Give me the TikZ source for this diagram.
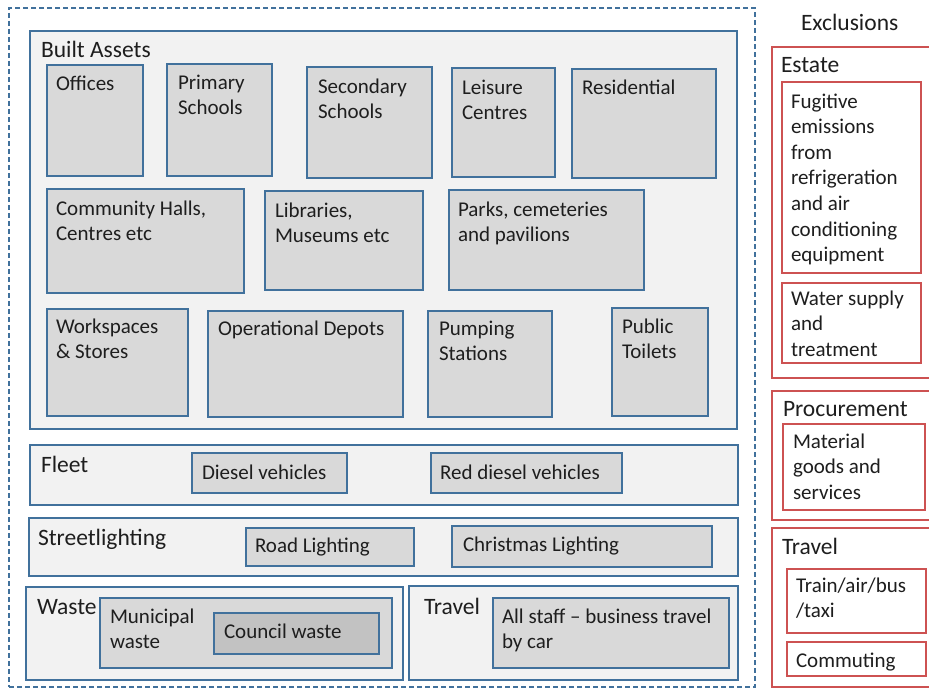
\documentclass[tikz,border=0pt]{standalone}
\usepackage{fontspec}
\setmainfont{Carlito}
\definecolor{bblue}{HTML}{41719C}
\definecolor{rred}{RGB}{205,82,82}
\definecolor{grpfill}{HTML}{F2F2F2}
\definecolor{boxfill}{HTML}{D9D9D9}
\definecolor{darkfill}{HTML}{C2C2C2}
\definecolor{txtc}{HTML}{1E1E1E}
\newcommand\bodyfont{\fontsize{21}{25.6}\selectfont}
\newcommand\headfont{\fontsize{23.5}{28}\selectfont}
\tikzset{
  boxbase/.style={rectangle, inner sep=0pt, outer sep=0pt, line width=2.8pt, anchor=north west},
  grp/.style={boxbase, draw=bblue, fill=grpfill},
  item/.style={boxbase, draw=bblue, fill=boxfill},
  ditem/.style={boxbase, draw=bblue, fill=darkfill},
  xgrp/.style={boxbase, draw=rred, fill=white},
  xitem/.style={boxbase, draw=rred, fill=white},
  outerbox/.style={rectangle, inner sep=0pt, outer sep=0pt, anchor=north west, draw=bblue, line width=2.2pt, dash pattern=on 5pt off 3pt},
  txt/.style={inner sep=0pt, outer sep=0pt, align=left, anchor=north west, text=txtc, font=\bodyfont},
  head/.style={inner sep=0pt, outer sep=0pt, anchor=base west, text=txtc, font=\headfont},
}
% name, style, x1, y1, x2, y2
\newcommand\bx[6]{\node[#2, minimum width={#5-#3}, minimum height={#6-#4}] (#1) at (#3,#4) {};}
% name, x, baseline y, text
\newcommand\tx[4]{\node[txt] (#1) at (#2,#3-17.92) {\strut #4};}
\newcommand\hd[4]{\node[head] (#1) at (#2,#3) {#4};}
\begin{document}
\begin{tikzpicture}[x=1pt,y=-1pt]
\useasboundingbox (0,0) rectangle (929,688);
\clip (0,0) rectangle (929,688);
\fill[white] (0,0) rectangle (929,688);

\node[outerbox, minimum width=746, minimum height=679] (outer) at (9,8) {};

% Built assets
\bx{built}{grp}{30}{31}{737}{429}
\hd{builtH}{41}{57}{Built Assets}
\bx{offices}{item}{47}{65}{143}{176}      \tx{officesT}{56}{90}{Offices}
\bx{primary}{item}{167}{64}{272}{176}     \tx{primaryT}{178}{89}{Primary\\Schools}
\bx{secondary}{item}{307}{67}{432}{178}   \tx{secondaryT}{318}{93}{Secondary\\Schools}
\bx{leisure}{item}{452}{68}{555}{177}     \tx{leisureT}{462}{94}{Leisure\\Centres}
\bx{resid}{item}{572}{69}{716}{178}       \tx{residT}{582}{94}{Residential}
\bx{community}{item}{47}{189}{244}{293}   \tx{communityT}{56}{215}{Community Halls,\\Centres etc}
\bx{libraries}{item}{265}{191}{423}{290}  \tx{librariesT}{275}{217}{Libraries,\\Museums etc}
\bx{parks}{item}{449}{190}{644}{290}      \tx{parksT}{458}{216}{Parks, cemeteries\\and pavilions}
\bx{workspaces}{item}{47}{309}{188}{416}  \tx{workspacesT}{56}{333}{Workspaces\\\& Stores}
\bx{depots}{item}{208}{311}{403}{417}     \tx{depotsT}{218}{335}{Operational Depots}
\bx{pumping}{item}{428}{311}{552}{417}    \tx{pumpingT}{439}{335}{Pumping\\Stations}
\bx{toilets}{item}{612}{308}{708}{416}    \tx{toiletsT}{622}{333}{Public\\Toilets}

% Fleet
\bx{fleet}{grp}{30}{445}{738}{505}
\hd{fleetH}{41}{472}{Fleet}
\bx{diesel}{item}{192}{453}{347}{493}     \tx{dieselT}{202}{479}{Diesel vehicles}
\bx{reddiesel}{item}{431}{453}{622}{493}  \tx{reddieselT}{440}{479}{Red diesel vehicles}

% Streetlighting
\bx{street}{grp}{29}{518}{738}{576}
\hd{streetH}{38}{545}{Streetlighting}
\bx{road}{item}{246}{528}{414}{566}       \tx{roadT}{255}{552}{Road Lighting}
\bx{xmas}{item}{452}{526}{712}{567}       \tx{xmasT}{463}{551}{Christmas Lighting}

% Waste
\bx{waste}{grp}{26}{587}{403}{680}
\hd{wasteH}{37}{614}{Waste}
\bx{municipal}{item}{100}{598}{392}{668}  \tx{municipalT}{110}{623}{Municipal\\waste}
\bx{council}{ditem}{214}{613}{379}{654}   \tx{councilT}{224}{638}{Council waste}

% Travel
\bx{travel}{grp}{409}{586}{738}{680}
\hd{travelH}{424}{614}{Travel}
\bx{staff}{item}{493}{598}{729}{668}      \tx{staffT}{502}{623}{All staff – business travel\\by car}

% Exclusions
\hd{exclH}{801}{30}{Exclusions}
\bx{estate}{xgrp}{772}{47}{940}{378}
\hd{estateH}{781}{72}{Estate}
\bx{fugitive}{xitem}{782}{82}{921}{273}   \tx{fugitiveT}{791}{108}{Fugitive\\emissions\\from\\refrigeration\\and air\\conditioning\\equipment}
\bx{water}{xitem}{782}{283}{921}{363}     \tx{waterT}{791}{305}{Water supply\\and\\treatment}

\bx{procure}{xgrp}{772}{391}{940}{520}
\hd{procureH}{783}{416}{Procurement}
\bx{material}{xitem}{783}{424}{925}{510}  \tx{materialT}{793}{448}{Material\\goods and\\services}

\bx{travelx}{xgrp}{772}{528}{940}{687}
\hd{travelxH}{782}{554}{Travel}
\bx{train}{xitem}{787}{569}{926}{633}     \tx{trainT}{796}{592}{Train/air/bus\\/taxi}
\bx{commuting}{xitem}{787}{642}{926}{676} \tx{commutingT}{796}{667}{Commuting}
\end{tikzpicture}
\end{document}
